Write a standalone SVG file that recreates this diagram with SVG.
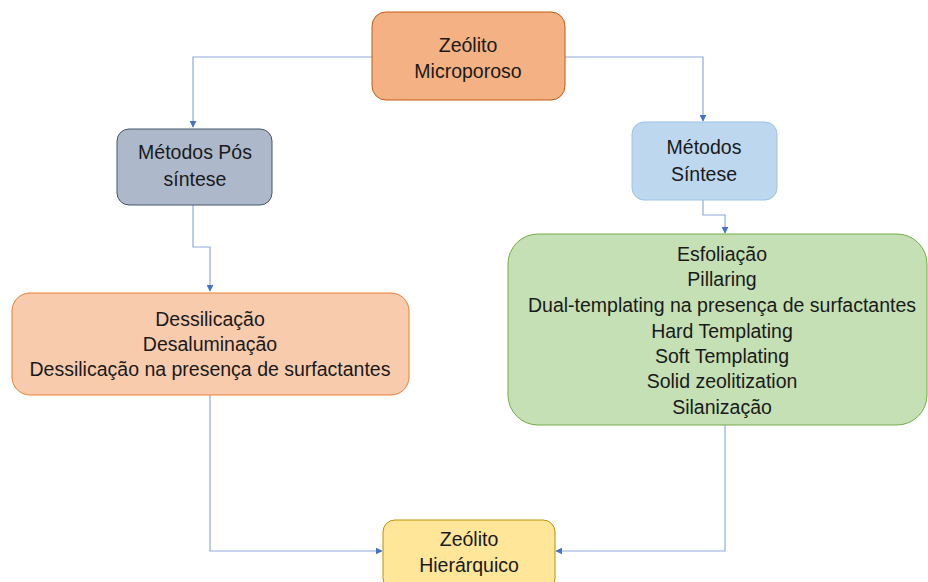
<svg xmlns="http://www.w3.org/2000/svg" width="928" height="582" viewBox="0 0 928 582">
<defs>
<style>
text{font-family:"Liberation Sans",Arial,sans-serif;font-size:19.5px;fill:#1a1a1a;text-anchor:middle}
.c{fill:none;stroke:#8FAADC;stroke-width:1.2}
</style>
<marker id="ah" viewBox="0 0 10 10" refX="9" refY="5" markerWidth="7" markerHeight="7" orient="auto" markerUnits="userSpaceOnUse"><path d="M0,0 L10,5 L0,10 z" fill="#4472C4"/></marker>
</defs>
<rect width="928" height="582" fill="#fff"/>
<g id="connectors">
<path class="c" d="M372,57 H193 V127" marker-end="url(#ah)"/>
<path class="c" d="M565,57 H703 V121" marker-end="url(#ah)"/>
<path class="c" d="M193,205 V247 H210 V291" marker-end="url(#ah)"/>
<path class="c" d="M703,200 V215 H725 V233" marker-end="url(#ah)"/>
<path class="c" d="M210,395 V551 H382" marker-end="url(#ah)"/>
<path class="c" d="M725,425 V551 H556" marker-end="url(#ah)"/>
</g>
<g id="n1"><rect x="372" y="12" width="193" height="88" rx="14" fill="#F4B183" stroke="#C55A11" stroke-width="1"/>
<text x="468" y="52">Zeólito</text><text x="468" y="78">Microporoso</text></g>
<g id="n2"><rect x="117" y="129" width="155" height="76" rx="12" fill="#ADB9CA" stroke="#44546A" stroke-width="1"/>
<text x="195" y="159">Métodos Pós</text><text x="195" y="186">síntese</text></g>
<g id="n3"><rect x="632" y="122" width="145" height="78" rx="12" fill="#BDD7EE" stroke="#9DC3E6" stroke-width="1"/>
<text x="704" y="154">Métodos</text><text x="704" y="181">Síntese</text></g>
<g id="n4"><rect x="12" y="293" width="397" height="102" rx="18" fill="#F8CBAD" stroke="#ED7D31" stroke-width="1"/>
<text x="210" y="326">Dessilicação</text><text x="210" y="351">Desaluminação</text><text x="210" y="376">Dessilicação na presença de surfactantes</text></g>
<g id="n5"><rect x="508" y="234" width="419" height="191" rx="30" fill="#C5E0B4" stroke="#70AD47" stroke-width="1"/>
<text x="722" y="261">Esfoliação</text><text x="722" y="286">Pillaring</text><text x="722" y="312">Dual-templating na presença de surfactantes</text><text x="722" y="338">Hard Templating</text><text x="722" y="363">Soft Templating</text><text x="722" y="388">Solid zeolitization</text><text x="722" y="414">Silanização</text></g>
<g id="n6"><rect x="383" y="520" width="172" height="70" rx="12" fill="#FFE699" stroke="#BF9000" stroke-width="1"/>
<text x="469" y="546">Zeólito</text><text x="469" y="572">Hierárquico</text></g>
</svg>
